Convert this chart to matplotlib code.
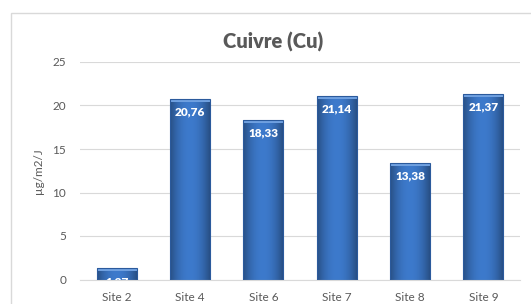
import numpy as np
import matplotlib
matplotlib.use('Agg')
import matplotlib.pyplot as plt
from matplotlib.patches import Rectangle

plt.rcParams['font.family'] = ['Lato', 'DejaVu Sans']

sites = ['Site 2', 'Site 4', 'Site 6', 'Site 7', 'Site 8', 'Site 9']
values = [1.27, 20.76, 18.33, 21.14, 13.38, 21.37]
labels = ['1,27', '20,76', '18,33', '21,14', '13,38', '21,37']

grey = '#595959'
fig = plt.figure(figsize=(5.31, 3.04), dpi=100)
fig.patches.append(Rectangle((11 / 531, -0.1), 1.2, 1.1 - 13 / 304, transform=fig.transFigure,
                             fill=False, edgecolor='#d9d9d9', lw=1))
ax = fig.add_axes([80 / 531, 1 - 279.5 / 304, 440 / 531, 217.5 / 304])

# horizontal gradient for the bars (dark edges, lighter middle)
t = np.linspace(-1, 1, 64)
shade = 1 - 0.35 * np.abs(t) ** 2
base = np.array([0x3d, 0x7a, 0xcc]) / 255
grad = np.clip(shade[None, :, None] * base[None, None, :], 0, 1)

w = 0.545
x = np.arange(len(sites))
bars = ax.bar(x, values, width=w, color='none', edgecolor='#2b5a9c', lw=0.8, zorder=3)
for b in bars:
    bx, by, bw, bh = b.get_x(), b.get_y(), b.get_width(), b.get_height()
    im = ax.imshow(grad, extent=[bx, bx + bw, by, by + bh], aspect='auto', zorder=2,
                   interpolation='bilinear')
    im.set_clip_path(b)
    ax.add_patch(Rectangle((bx, by + bh - 0.35), bw, 0.35, color='#6fa0e0', lw=0, zorder=2.5))

for xi, v, lab in zip(x, values, labels):
    ax.text(xi, v - 0.9, lab, ha='center', va='top', color='white', fontsize=8.5,
            fontweight='heavy', zorder=4, clip_on=True)

ax.set_xlim(-0.5, len(sites) - 0.5)
ax.set_ylim(0, 25)
ax.set_yticks([0, 5, 10, 15, 20, 25])
ax.set_xticks(x)
ax.set_xticklabels(sites)
ax.yaxis.grid(True, color='#d9d9d9', lw=0.8, zorder=0)
ax.set_axisbelow(True)
for s in ['top', 'right', 'left']:
    ax.spines[s].set_visible(False)
ax.spines['bottom'].set_color('#d9d9d9')
ax.tick_params(axis='both', length=0, colors=grey, labelsize=8.5)
ax.tick_params(axis='y', pad=10)
ax.tick_params(axis='x', pad=9)
ax.set_ylabel('µg/m2/J', color=grey, fontsize=8.5, labelpad=6)

fig.text(273 / 531, 1 - 42 / 304, 'Cuivre (Cu)', ha='center', va='center', fontsize=14.5,
         fontweight='heavy', color=grey)

fig.savefig('out.png', dpi=100)
